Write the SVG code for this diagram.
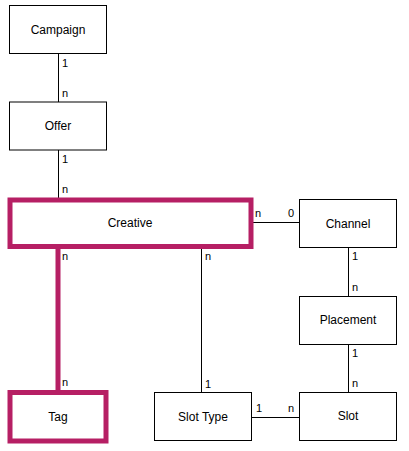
<svg xmlns="http://www.w3.org/2000/svg" width="409" height="451" viewBox="0 0 409 451">
<style>
.box{fill:#fff;stroke:#000;stroke-width:1}
.hl{fill:#fff;stroke:#B61F64;stroke-width:5}
.lbl{font-family:"Liberation Sans",Arial,sans-serif;font-size:12px;fill:#000;text-anchor:middle;dominant-baseline:central}
.card{font-family:"Liberation Sans",Arial,sans-serif;font-size:11px;fill:#000}
.ln{stroke:#000;stroke-width:1;fill:none}
.lnhl{stroke:#B61F64;stroke-width:5;fill:none}
</style>
<rect width="409" height="451" fill="#fff"/>
<g id="connectors">
<line class="ln" x1="58.5" y1="54" x2="58.5" y2="102"/>
<line class="ln" x1="58.5" y1="150" x2="58.5" y2="198"/>
<line class="ln" x1="253" y1="222.5" x2="299.5" y2="222.5"/>
<line class="ln" x1="348.5" y1="247.5" x2="348.5" y2="296.5"/>
<line class="ln" x1="348.5" y1="344.5" x2="348.5" y2="392.5"/>
<line class="ln" x1="201.5" y1="248" x2="201.5" y2="392.5"/>
<line class="ln" x1="251.5" y1="417.5" x2="299.5" y2="417.5"/>
<line class="lnhl" x1="58" y1="248" x2="58" y2="391"/>
<text class="card" x="62" y="67">1</text>
<text class="card" x="62" y="97">n</text>
<text class="card" x="62" y="163">1</text>
<text class="card" x="62" y="193">n</text>
<text class="card" x="255" y="217">n</text>
<text class="card" x="288" y="217">0</text>
<text class="card" x="62" y="260">n</text>
<text class="card" x="62" y="386">n</text>
<text class="card" x="205" y="260">n</text>
<text class="card" x="205" y="388">1</text>
<text class="card" x="352" y="260">1</text>
<text class="card" x="352" y="291">n</text>
<text class="card" x="352" y="357">1</text>
<text class="card" x="352" y="387">n</text>
<text class="card" x="256" y="412">1</text>
<text class="card" x="288" y="412">n</text>
</g>
<g id="campaign"><rect class="box" x="9.5" y="5.5" width="97" height="48"/><text class="lbl" x="58" y="30">Campaign</text></g>
<g id="offer"><rect class="box" x="9.5" y="102" width="97" height="48"/><text class="lbl" x="58" y="126">Offer</text></g>
<g id="creative"><rect class="hl" x="10" y="200" width="241" height="46.5"/><text class="lbl" x="130" y="223">Creative</text></g>
<g id="channel"><rect class="box" x="299.5" y="199.5" width="97" height="48"/><text class="lbl" x="348" y="224">Channel</text></g>
<g id="placement"><rect class="box" x="299.5" y="296.5" width="97" height="48"/><text class="lbl" x="348" y="320">Placement</text></g>
<g id="tag"><rect class="hl" x="10" y="392.5" width="96" height="48.5"/><text class="lbl" x="58" y="417">Tag</text></g>
<g id="slottype"><rect class="box" x="154.5" y="392.5" width="97" height="48"/><text class="lbl" x="203" y="417">Slot Type</text></g>
<g id="slot"><rect class="box" x="299.5" y="392.5" width="97" height="48"/><text class="lbl" x="348" y="416">Slot</text></g>
</svg>
